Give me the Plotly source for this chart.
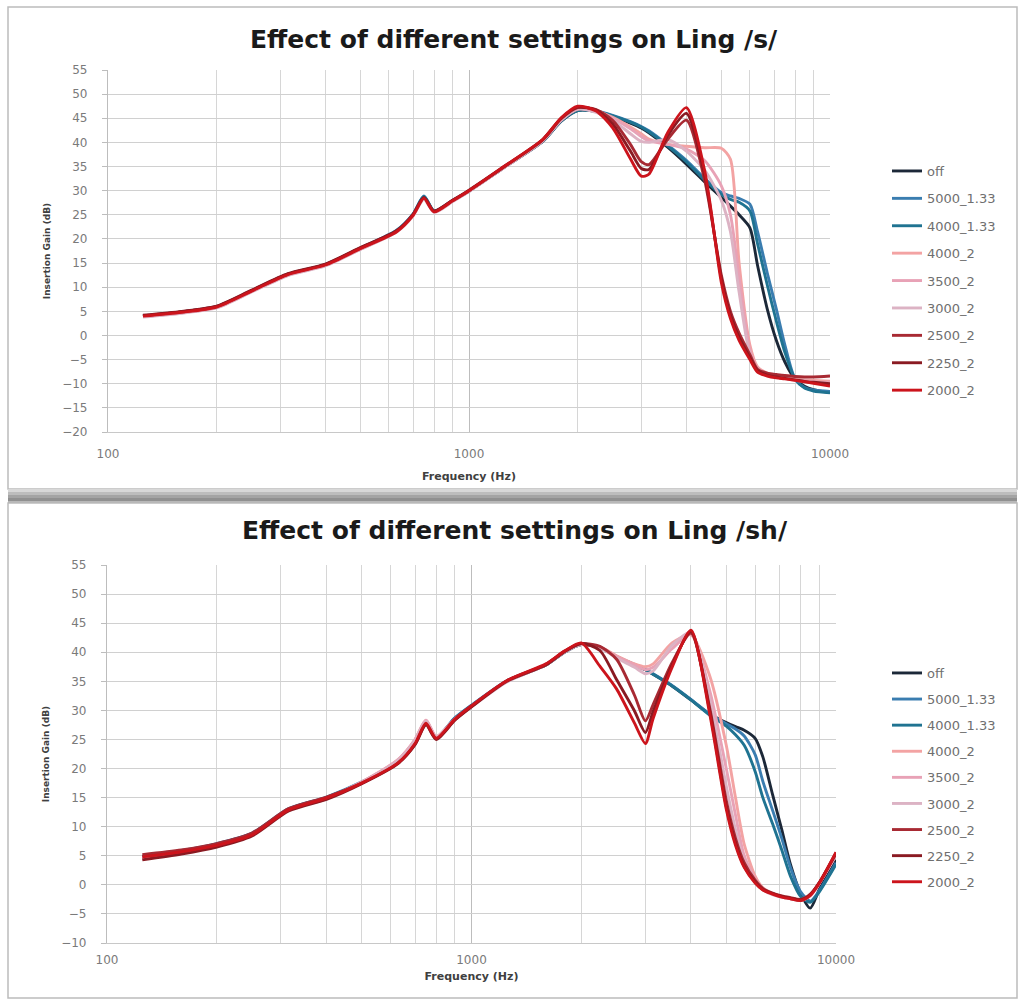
import plotly.graph_objects as go

# Frequency grid shared by every measured curve (Hz)
freq = [125, 160, 200, 250, 315, 400, 500, 630, 700, 750, 800, 900, 1000,
        1250, 1600, 1800, 2000, 2250, 2500, 2800, 3000, 3150, 3550, 4000,
        4500, 5000, 5300, 5600, 6000, 6300, 6700, 7100, 7500, 8000, 8500,
        9000, 10000]

series_names = ["off", "5000_1.33", "4000_1.33", "4000_2", "3500_2",
                "3000_2", "2500_2", "2250_2", "2000_2"]

series_colors = ["#1c2838", "#3a7db0", "#1f7391", "#f3a3a3", "#e8a2b6",
                 "#dcb3c4", "#a82a33", "#8a1a22", "#cc141c"]

# Insertion gain (dB), Ling /s/
s_off = [4.0, 4.8, 5.9, 9.2, 12.6, 14.6, 18.0, 21.6, 25.0, 28.7, 25.7, 27.9, 29.9,
         34.8, 40.2, 44.4, 46.6, 46.4, 45.4, 44.0, 43.0, 42.0, 39.0, 35.5,
         31.8, 28.6, 26.8, 25.0, 22.3, 14.5, 5.5, -1.0, -5.5, -9.0, -10.5,
         -11.2, -11.8]
s_5000_133 = [4.1, 4.9, 6.0, 9.3, 12.7, 14.7, 18.1, 21.8, 25.2, 28.9, 25.8, 28.0, 30.0,
              34.9, 40.3, 44.5, 46.7, 46.5, 45.6, 44.3, 43.3, 42.4, 39.5, 36.3,
              32.5, 29.6, 28.9, 28.4, 27.2, 21.5, 13.0, 5.5, -2.0, -9.0, -10.8,
              -11.3, -11.6]
s_4000_133 = [4.0, 4.8, 5.9, 9.2, 12.6, 14.6, 18.0, 21.7, 25.1, 28.8, 25.8, 27.9, 29.9,
              34.8, 40.2, 44.4, 46.6, 46.4, 45.5, 44.2, 43.2, 42.2, 39.3, 36.0,
              32.2, 29.2, 28.2, 27.6, 25.8, 19.0, 10.5, 3.0, -3.5, -9.0, -10.9,
              -11.5, -11.9]
s_4000_2 = [3.9, 4.7, 5.8, 9.1, 12.5, 14.5, 17.9, 21.5, 24.8, 28.3, 25.6, 27.8, 29.9,
            34.8, 40.3, 44.6, 46.9, 46.6, 45.2, 43.2, 41.8, 40.7, 39.6, 39.2,
            38.9, 38.8, 36.5, 15.0, -2.0, -6.5, -7.8, -8.3, -8.6, -9.0, -9.2,
            -9.3, -9.5]
s_3500_2 = [3.9, 4.7, 5.8, 9.1, 12.5, 14.5, 17.9, 21.5, 24.9, 28.4, 25.6, 27.8, 29.9,
            34.8, 40.3, 44.6, 46.9, 46.4, 45.0, 42.8, 41.2, 40.3, 39.6, 38.6,
            36.2, 31.0, 25.0, 12.0, -3.0, -6.8, -8.0, -8.5, -8.8, -9.2, -9.4,
            -9.6, -9.8]
s_3000_2 = [3.8, 4.6, 5.7, 9.0, 12.4, 14.4, 17.8, 21.4, 24.8, 28.2, 25.5, 27.7, 29.8,
            34.8, 40.4, 44.7, 47.0, 46.2, 44.6, 41.8, 40.2, 40.0, 40.6, 38.2,
            34.2, 28.0, 21.5, 9.0, -4.0, -7.0, -8.1, -8.6, -8.9, -9.3, -9.5,
            -9.7, -10.0]
s_2500_2 = [4.1, 4.9, 6.0, 9.3, 12.7, 14.7, 18.1, 21.6, 25.0, 28.5, 25.7, 27.9, 30.0,
            34.9, 40.5, 44.9, 47.2, 46.8, 44.6, 39.6, 36.0, 35.4, 40.6, 44.6,
            32.0, 12.5, 5.0, 0.5, -4.0, -7.0, -7.8, -8.1, -8.3, -8.5, -8.6,
            -8.6, -8.4]
s_2250_2 = [4.2, 5.0, 6.1, 9.4, 12.8, 14.8, 18.2, 21.7, 25.1, 28.6, 25.8, 28.0, 30.1,
            35.0, 40.6, 45.0, 47.3, 46.7, 43.8, 38.2, 34.6, 34.4, 41.4, 46.0,
            33.0, 11.8, 4.2, -0.4, -4.6, -7.3, -8.2, -8.6, -8.9, -9.2, -9.5,
            -9.7, -10.0]
s_2000_2 = [4.0, 4.8, 5.9, 9.2, 12.6, 14.6, 18.0, 21.5, 24.9, 28.4, 25.6, 27.9, 30.0,
            35.0, 40.6, 45.1, 47.5, 46.5, 43.0, 36.6, 33.0, 33.4, 42.0, 47.2,
            34.0, 11.0, 3.5, -1.0, -5.0, -7.6, -8.4, -8.8, -9.0, -9.3, -9.6,
            -9.9, -10.5]

# Insertion gain (dB), Ling /sh/
sh_off = [4.8, 5.8, 7.0, 8.8, 13.0, 15.0, 17.6, 21.2, 24.5, 28.0, 25.3, 28.6, 30.8,
          35.0, 37.8, 40.0, 41.3, 40.8, 39.2, 37.8, 37.0, 36.2, 34.2, 31.8,
          29.4, 27.9, 27.2, 26.6, 25.2, 22.0, 15.5, 9.5, 3.5, -1.5, -4.0,
          -0.8, 4.3]
sh_5000_133 = [4.9, 5.9, 7.1, 8.9, 13.1, 15.1, 17.7, 21.3, 24.6, 28.1, 25.4, 28.7, 30.9,
               35.1, 37.9, 40.1, 41.4, 40.9, 39.3, 37.9, 37.1, 36.3, 34.3, 31.9,
               29.4, 27.7, 26.8, 25.6, 22.4, 17.8, 12.8, 8.0, 3.0, -1.2, -2.8,
               -1.0, 3.8]
sh_4000_133 = [4.8, 5.8, 7.0, 8.8, 13.0, 15.0, 17.6, 21.2, 24.5, 28.0, 25.3, 28.6, 30.8,
               35.0, 37.8, 40.0, 41.3, 40.8, 39.2, 37.8, 37.0, 36.2, 34.2, 31.8,
               29.2, 27.3, 25.8, 24.0, 19.5, 15.0, 10.5, 6.0, 1.5, -2.0, -3.0,
               -1.2, 3.5]
sh_4000_2 = [4.6, 5.6, 6.8, 8.7, 12.9, 14.9, 17.7, 21.6, 25.0, 28.3, 25.5, 28.5, 30.7,
             35.0, 37.9, 40.1, 41.4, 40.9, 39.4, 38.0, 37.5, 38.0, 41.6, 43.0,
             36.0, 24.0, 15.0, 7.0, 1.5, -0.5, -1.5, -2.0, -2.3, -2.6, -1.8,
             0.3, 5.0]
sh_3500_2 = [4.6, 5.6, 6.8, 8.7, 12.9, 14.9, 17.7, 21.6, 25.0, 28.3, 25.5, 28.5, 30.7,
             35.0, 37.9, 40.1, 41.4, 40.8, 39.2, 37.8, 37.0, 37.4, 40.6, 43.1,
             33.5, 20.0, 12.0, 5.0, 1.0, -0.7, -1.6, -2.1, -2.4, -2.7, -1.9,
             0.2, 5.1]
sh_3000_2 = [4.5, 5.5, 6.7, 8.6, 12.8, 14.8, 17.6, 21.5, 24.9, 28.2, 25.4, 28.4, 30.6,
             34.9, 37.8, 40.0, 41.3, 40.8, 39.0, 37.4, 36.3, 36.8, 41.2, 43.4,
             32.0, 17.0, 9.5, 4.0, 0.7, -0.8, -1.7, -2.1, -2.4, -2.7, -1.8,
             0.3, 5.2]
sh_2500_2 = [5.2, 6.0, 7.1, 8.9, 13.1, 15.1, 17.5, 21.0, 24.2, 27.6, 25.1, 28.4, 30.7,
             35.1, 37.9, 40.2, 41.5, 41.0, 38.8, 32.6, 28.2, 31.0, 38.2, 43.3,
             30.5, 14.5, 8.0, 3.8, 0.8, -0.6, -1.4, -1.9, -2.2, -2.5, -1.6,
             0.4, 5.4]
sh_2250_2 = [4.3, 5.3, 6.5, 8.4, 12.7, 14.7, 17.4, 20.9, 24.1, 27.5, 25.0, 28.3, 30.6,
             35.0, 37.8, 40.1, 41.5, 40.3, 35.3, 29.9, 26.2, 29.8, 37.8, 43.6,
             30.0, 13.5, 7.2, 3.2, 0.5, -0.8, -1.5, -2.0, -2.3, -2.6, -1.7,
             0.4, 5.5]
sh_2000_2 = [4.8, 5.7, 6.8, 8.6, 12.9, 14.9, 17.5, 21.0, 24.3, 27.8, 25.2, 28.5, 30.8,
             35.1, 38.0, 40.2, 41.6, 37.6, 33.7, 27.8, 24.3, 28.6, 37.4, 43.8,
             29.5, 13.0, 6.8, 3.0, 0.3, -0.9, -1.6, -2.1, -2.4, -2.7, -1.8,
             0.3, 5.6]

s_series = [s_off, s_5000_133, s_4000_133, s_4000_2, s_3500_2, s_3000_2,
            s_2500_2, s_2250_2, s_2000_2]
sh_series = [sh_off, sh_5000_133, sh_4000_133, sh_4000_2, sh_3500_2, sh_3000_2,
             sh_2500_2, sh_2250_2, sh_2000_2]

x_ticks = [100, 1000, 10000]
x_minor = [200, 300, 400, 500, 600, 700, 800, 900,
           2000, 3000, 4000, 5000, 6000, 7000, 8000, 9000]

W, H = 1024, 1002


def px_x(p):
    return p / W


def px_y(p):
    return 1 - p / H


fig = go.Figure()

for name, color, vals in zip(series_names, series_colors, s_series):
    fig.add_trace(go.Scatter(
        x=freq, y=vals, name=name, mode="lines",
        line=dict(color=color, width=2.9, shape="spline", smoothing=0.7),
        xaxis="x", yaxis="y", legend="legend", legendgroup="s_" + name,
    ))

for name, color, vals in zip(series_names, series_colors, sh_series):
    fig.add_trace(go.Scatter(
        x=freq, y=vals, name=name, mode="lines",
        line=dict(color=color, width=2.9, shape="spline", smoothing=0.7),
        xaxis="x2", yaxis="y2", legend="legend2", legendgroup="sh_" + name,
    ))

tick_font = dict(family="DejaVu Sans", size=12, color="#7a7a7a")
axis_title_font = dict(family="DejaVu Sans", size=11, color="#404040")


def x_axis(domain, anchor, ticklen, standoff):
    return dict(
        type="log", range=[2, 4], domain=domain, anchor=anchor,
        automargin=False,
        tickvals=x_ticks, ticktext=[str(v) for v in x_ticks],
        tickfont=tick_font, ticks="outside", ticklen=ticklen, tickcolor="#ffffff",
        showgrid=True, gridcolor="#bdbdbd", gridwidth=1.3,
        minor=dict(tickvals=x_minor, showgrid=True, gridcolor="#d6d6d6",
                   gridwidth=1.2, ticks=""),
        showline=True, linecolor="#c8c8c8", linewidth=1.2, mirror=False,
        zeroline=False,
        title=dict(text="<b>Frequency (Hz)</b>", font=axis_title_font,
                   standoff=standoff),
    )


def y_axis(domain, anchor, rng):
    return dict(
        range=rng, domain=domain, anchor=anchor, dtick=5, tick0=0,
        automargin=False,
        tickfont=tick_font, ticks="outside", ticklen=5, tickcolor="#bdbdbd",
        ticklabelstandoff=12,
        showgrid=True, gridcolor="#d0d0d0", gridwidth=1.3,
        showline=True, linecolor="#bdbdbd", linewidth=1.2,
        zeroline=False,
        title=dict(text="<b>Insertion Gain (dB)</b>",
                   font=dict(family="DejaVu Sans", size=9, color="#404040"),
                   standoff=10),
    )


fig.update_layout(
    width=W, height=H,
    margin=dict(l=0, r=0, t=0, b=0),
    paper_bgcolor="#ffffff",
    plot_bgcolor="rgba(0,0,0,0)",
    showlegend=True,
    xaxis=x_axis([px_x(108), px_x(830)], "y", 10, 12),
    yaxis=y_axis([px_y(432), px_y(70)], "x", [-20, 55]),
    xaxis2=x_axis([px_x(107), px_x(836)], "y2", 5, 6),
    yaxis2=y_axis([px_y(943), px_y(565)], "x2", [-10, 55]),
    legend=dict(
        x=px_x(887), y=px_y(156), xanchor="left", yanchor="top",
        font=dict(family="DejaVu Sans", size=13, color="#6f6f6f"),
        tracegroupgap=7.5, bgcolor="rgba(0,0,0,0)", itemwidth=30,
    ),
    legend2=dict(
        x=px_x(887), y=px_y(658), xanchor="left", yanchor="top",
        font=dict(family="DejaVu Sans", size=13, color="#6f6f6f"),
        tracegroupgap=6.2, bgcolor="rgba(0,0,0,0)", itemwidth=30,
    ),
)

# Chart panels with a shaded divider between them
shapes = [
    dict(type="rect", xref="paper", yref="paper",
         x0=px_x(8), x1=px_x(1017), y0=px_y(489), y1=px_y(7),
         line=dict(color="#bcbcbc", width=1.5), fillcolor="#ffffff", layer="below"),
    dict(type="rect", xref="paper", yref="paper",
         x0=px_x(8), x1=px_x(1017), y0=px_y(998), y1=px_y(503),
         line=dict(color="#bcbcbc", width=1.5), fillcolor="#ffffff", layer="below"),
]
band = [(489, 492, "#d8d8d8"), (492, 495, "#bdbdbd"), (495, 498, "#a4a4a4"),
        (498, 501, "#909090"), (501, 503, "#b8b8b8")]
for top, bottom, col in band:
    shapes.append(dict(type="rect", xref="paper", yref="paper",
                       x0=px_x(8), x1=px_x(1017), y0=px_y(bottom), y1=px_y(top),
                       line=dict(width=0), fillcolor=col, layer="below"))
fig.update_layout(shapes=shapes)

title_font = dict(family="DejaVu Sans", size=25, color="#1a1a1a")
fig.add_annotation(text="<b>Effect of different settings on Ling /s/</b>",
                   xref="paper", yref="paper", x=px_x(514), y=px_y(39),
                   xanchor="center", yanchor="middle", showarrow=False,
                   font=title_font)
fig.add_annotation(text="<b>Effect of different settings on Ling /sh/</b>",
                   xref="paper", yref="paper", x=px_x(515), y=px_y(530),
                   xanchor="center", yanchor="middle", showarrow=False,
                   font=title_font)

fig.write_html("out.html")
